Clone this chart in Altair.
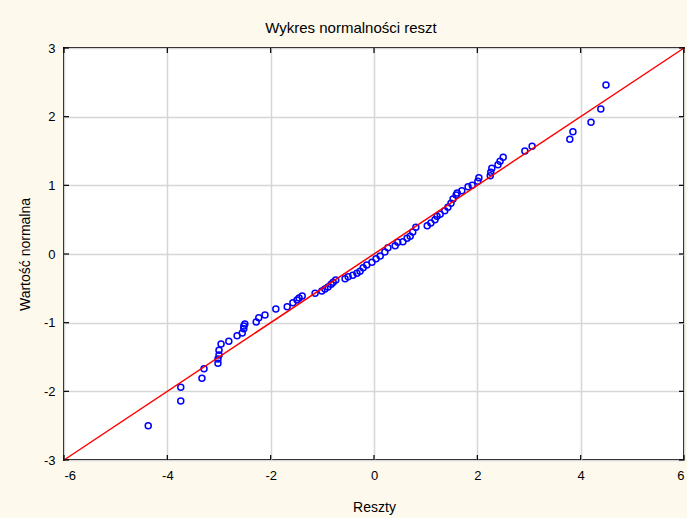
import altair as alt
import pandas as pd

# Residuals (x) and their expected normal values (y)
reszty = [
    -4.37, -3.74, -3.74, -3.33, -3.29, -3.02, -3.02, -3.00, -3.00, -2.96,
    -2.81, -2.65, -2.55, -2.52, -2.52, -2.50, -2.28, -2.23, -2.11, -1.90,
    -1.68, -1.57, -1.49, -1.45, -1.39, -1.14, -1.01, -0.95, -0.89, -0.83,
    -0.79, -0.74, -0.56, -0.50, -0.41, -0.33, -0.27, -0.21, -0.14, -0.04,
    0.04, 0.12, 0.21, 0.27, 0.41, 0.46, 0.56, 0.64, 0.70, 0.75,
    0.81, 1.03, 1.10, 1.18, 1.22, 1.28, 1.37, 1.43, 1.49, 1.53,
    1.59, 1.61, 1.70, 1.82, 1.90, 2.01, 2.03, 2.25, 2.26, 2.28,
    2.40, 2.44, 2.50, 2.92, 3.06, 3.79, 3.85, 4.20, 4.39, 4.49,
]
wartosc_normalna = [
    -2.50, -2.14, -1.94, -1.81, -1.67, -1.59, -1.53, -1.47, -1.40, -1.31,
    -1.27, -1.19, -1.15, -1.09, -1.05, -1.02, -0.99, -0.93, -0.89, -0.80,
    -0.77, -0.71, -0.67, -0.64, -0.61, -0.57, -0.54, -0.51, -0.48, -0.44,
    -0.41, -0.38, -0.36, -0.33, -0.31, -0.28, -0.25, -0.20, -0.16, -0.12,
    -0.07, -0.03, 0.03, 0.09, 0.12, 0.17, 0.18, 0.23, 0.26, 0.32,
    0.39, 0.41, 0.45, 0.50, 0.55, 0.58, 0.63, 0.68, 0.74, 0.80,
    0.86, 0.89, 0.92, 0.98, 1.00, 1.06, 1.11, 1.14, 1.19, 1.25,
    1.30, 1.35, 1.41, 1.50, 1.57, 1.67, 1.78, 1.92, 2.11, 2.46,
]

# Reference line of the normal plot
linia_x = [-6, 6]
linia_y = [-3, 3]

x_ticks = [-6, -4, -2, 0, 2, 4, 6]
y_ticks = [-3, -2, -1, 0, 1, 2, 3]

W, H = 620, 412
FONT = "Liberation Sans"

df = pd.DataFrame({"reszty": reszty, "wartosc": wartosc_normalna})
line_df = pd.DataFrame({"x": linia_x, "y": linia_y})
xt_df = pd.DataFrame({"t": x_ticks})
yt_df = pd.DataFrame({"t": y_ticks})

xs = alt.Scale(domain=[-6, 6], nice=False, zero=False)
ys = alt.Scale(domain=[-3, 3], nice=False, zero=False)

label_expr = "'' + datum.value"

points = alt.Chart(df).mark_point(
    shape="circle", filled=False, color="#0000ff", size=36, strokeWidth=1.5, opacity=1
).encode(
    x=alt.X(
        "reszty:Q", scale=xs,
        axis=alt.Axis(values=x_ticks, title="Reszty", labelExpr=label_expr,
                      labelPadding=9, titlePadding=18),
    ),
    y=alt.Y(
        "wartosc:Q", scale=ys,
        axis=alt.Axis(values=y_ticks, title="Wartość normalna", labelExpr=label_expr,
                      labelPadding=9, titlePadding=11),
    ),
)

line = alt.Chart(line_df).mark_line(color="#ff0000", strokeWidth=1.5).encode(
    x=alt.X("x:Q", scale=xs), y=alt.Y("y:Q", scale=ys)
)

# Inward tick marks on all four sides of the frame
tick_style = dict(color="#000000", strokeWidth=1.2)
left_ticks = alt.Chart(yt_df).mark_rule(**tick_style).encode(
    y=alt.Y("t:Q", scale=ys), x=alt.value(0), x2=alt.value(5))
right_ticks = alt.Chart(yt_df).mark_rule(**tick_style).encode(
    y=alt.Y("t:Q", scale=ys), x=alt.value(W - 5), x2=alt.value(W))
bottom_ticks = alt.Chart(xt_df).mark_rule(**tick_style).encode(
    x=alt.X("t:Q", scale=xs), y=alt.value(H - 5), y2=alt.value(H))
top_ticks = alt.Chart(xt_df).mark_rule(**tick_style).encode(
    x=alt.X("t:Q", scale=xs), y=alt.value(0), y2=alt.value(5))

chart = alt.layer(
    points, line, left_ticks, right_ticks, bottom_ticks, top_ticks
).properties(
    width=W,
    height=H,
    title=alt.TitleParams(
        "Wykres normalności reszt", font=FONT, fontSize=15, fontWeight="normal",
        color="#000000", offset=6, dx=-23,
    ),
    background="#fef9ed",
    padding={"left": 64, "top": 48, "right": 3, "bottom": 58},
    autosize=alt.AutoSizeParams(type="none"),
).configure_view(
    fill="#ffffff", stroke="#000000", strokeWidth=2
).configure_axis(
    domain=False, ticks=False, grid=True, gridColor="#d6d6d6", gridWidth=1.5,
    labelFont=FONT, labelFontSize=13, labelColor="#000000",
    titleFont=FONT, titleFontSize=14, titleFontWeight="normal", titleColor="#000000",
)

chart.save("out.html", embed_options={"renderer": "svg", "actions": False})
